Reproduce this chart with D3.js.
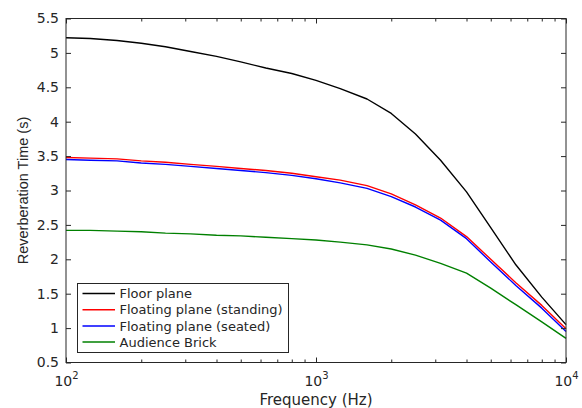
<!DOCTYPE html>
<html>
<head>
<meta charset="utf-8">
<script src="https://cdn.jsdelivr.net/npm/d3@7"></script>
<style>
  body { margin: 0; background: #fff; }
  svg text { fill: #262626; }
</style>
</head>
<body>
<svg width="582" height="408"></svg>
<script>
// third-octave band centre frequencies (Hz)
const freqs = [100, 125, 160, 200, 250, 315, 400, 500, 630, 800, 1000,
    1250, 1600, 2000, 2500, 3150, 4000, 5000, 6300, 8000, 10000];

// reverberation time (s)
const floorPlane = [5.22, 5.21, 5.18, 5.14, 5.09, 5.02, 4.95, 4.87, 4.78, 4.70, 4.60,
    4.48, 4.33, 4.12, 3.82, 3.44, 2.98, 2.46, 1.92, 1.45, 1.05];
const floatingStanding = [3.48, 3.47, 3.46, 3.43, 3.41, 3.38, 3.35, 3.32, 3.29, 3.25, 3.20,
    3.15, 3.07, 2.95, 2.79, 2.60, 2.33, 2.00, 1.66, 1.33, 0.99];
const floatingSeated = [3.45, 3.44, 3.43, 3.40, 3.38, 3.35, 3.32, 3.29, 3.26, 3.22, 3.17,
    3.11, 3.03, 2.91, 2.76, 2.57, 2.30, 1.96, 1.62, 1.29, 0.95];
const audienceBrick = [2.42, 2.42, 2.41, 2.40, 2.38, 2.37, 2.35, 2.34, 2.32, 2.30, 2.28,
    2.25, 2.21, 2.15, 2.06, 1.94, 1.80, 1.58, 1.34, 1.09, 0.85];

const seriesNames = ["Floor plane", "Floating plane (standing)", "Floating plane (seated)", "Audience Brick"];
const seriesColors = ["#000000", "#ff0000", "#0000ff", "#008000"];

const yTicks = [0.5, 1, 1.5, 2, 2.5, 3, 3.5, 4, 4.5, 5, 5.5];
const xMajor = [100, 1000, 10000];
const xMinor = [200, 300, 400, 500, 600, 700, 800, 900, 2000, 3000, 4000, 5000, 6000, 7000, 8000, 9000];
const xExponents = ["2", "3", "4"];

function init() {
    const allSeries = [floorPlane, floatingStanding, floatingSeated, audienceBrick];
    const left = 66, right = 566, top = 18.5, bottom = 362.5;

    const svg = d3.select("svg");
    const x = d3.scaleLog().domain([100, 10000]).range([left, right]);
    const y = d3.scaleLinear().domain([0.5, 5.5]).range([bottom, top]);

    const font = "'DejaVu Sans', sans-serif";

    // lines
    const line = d3.line()
        .x((d, i) => x(freqs[i]))
        .y(d => y(d));
    allSeries.forEach((s, k) => {
        svg.append("path").datum(s)
            .attr("d", line)
            .attr("fill", "none")
            .attr("stroke", seriesColors[k])
            .attr("stroke-width", 1.4)
            .attr("stroke-linejoin", "round");
    });

    // axes (ticks point inward)
    const gLeft = svg.append("g").attr("transform", `translate(${left},0)`)
        .call(d3.axisLeft(y).tickValues(yTicks).tickSize(-5).tickSizeOuter(0).tickPadding(7)
            .tickFormat(d3.format("")));
    gLeft.selectAll("text").style("font", `14px ${font}`);

    svg.append("g").attr("transform", `translate(${right},0)`)
        .call(d3.axisRight(y).tickValues(yTicks).tickSize(-5).tickSizeOuter(0).tickFormat(""));

    const gBottom = svg.append("g").attr("transform", `translate(0,${bottom})`)
        .call(d3.axisBottom(x).tickValues(xMajor).tickSize(-5).tickSizeOuter(0));
    gBottom.selectAll(".tick text").each(function (d, i) {
        const t = d3.select(this).text(null)
            .attr("y", 23).attr("dy", 0)
            .style("font", `14px ${font}`);
        t.append("tspan").text("10");
        t.append("tspan").text(xExponents[i]).attr("dy", -7).style("font-size", "10px");
    });
    svg.append("g").attr("transform", `translate(0,${bottom})`)
        .call(d3.axisBottom(x).tickValues(xMinor).tickSize(-3).tickSizeOuter(0).tickFormat(""));

    svg.append("g").attr("transform", `translate(0,${top})`)
        .call(d3.axisTop(x).tickValues(xMajor).tickSize(-5).tickSizeOuter(0).tickFormat(""));
    svg.append("g").attr("transform", `translate(0,${top})`)
        .call(d3.axisTop(x).tickValues(xMinor).tickSize(-3).tickSizeOuter(0).tickFormat(""));

    svg.selectAll(".domain").remove();
    svg.selectAll(".tick line").attr("stroke", "#262626");

    // box
    svg.append("rect")
        .attr("x", left).attr("y", top)
        .attr("width", right - left).attr("height", bottom - top)
        .attr("fill", "none").attr("stroke", "#262626").attr("stroke-width", 1);

    // axis labels
    svg.append("text")
        .attr("x", (left + right) / 2).attr("y", 405)
        .attr("text-anchor", "middle")
        .style("font", `15px ${font}`)
        .text("Frequency (Hz)");
    svg.append("text")
        .attr("transform", `translate(28,${(top + bottom) / 2}) rotate(-90)`)
        .attr("text-anchor", "middle")
        .style("font", "14.5px 'Liberation Sans', Arial, sans-serif")
        .text("Reverberation Time (s)");

    // legend
    const legend = svg.append("g");
    legend.append("rect")
        .attr("x", 77.5).attr("y", 283.5).attr("width", 211).attr("height", 69)
        .attr("fill", "#fff").attr("stroke", "#262626").attr("stroke-width", 1);
    seriesNames.forEach((name, k) => {
        const cy = 293.5 + k * 16.2;
        legend.append("line")
            .attr("x1", 82.5).attr("x2", 115).attr("y1", cy).attr("y2", cy)
            .attr("stroke", seriesColors[k]).attr("stroke-width", 1.5);
        legend.append("text")
            .attr("x", 119.5).attr("y", cy).attr("dy", "0.36em")
            .style("font", `13px ${font}`)
            .text(name);
    });
}

init();
</script>
</body>
</html>
